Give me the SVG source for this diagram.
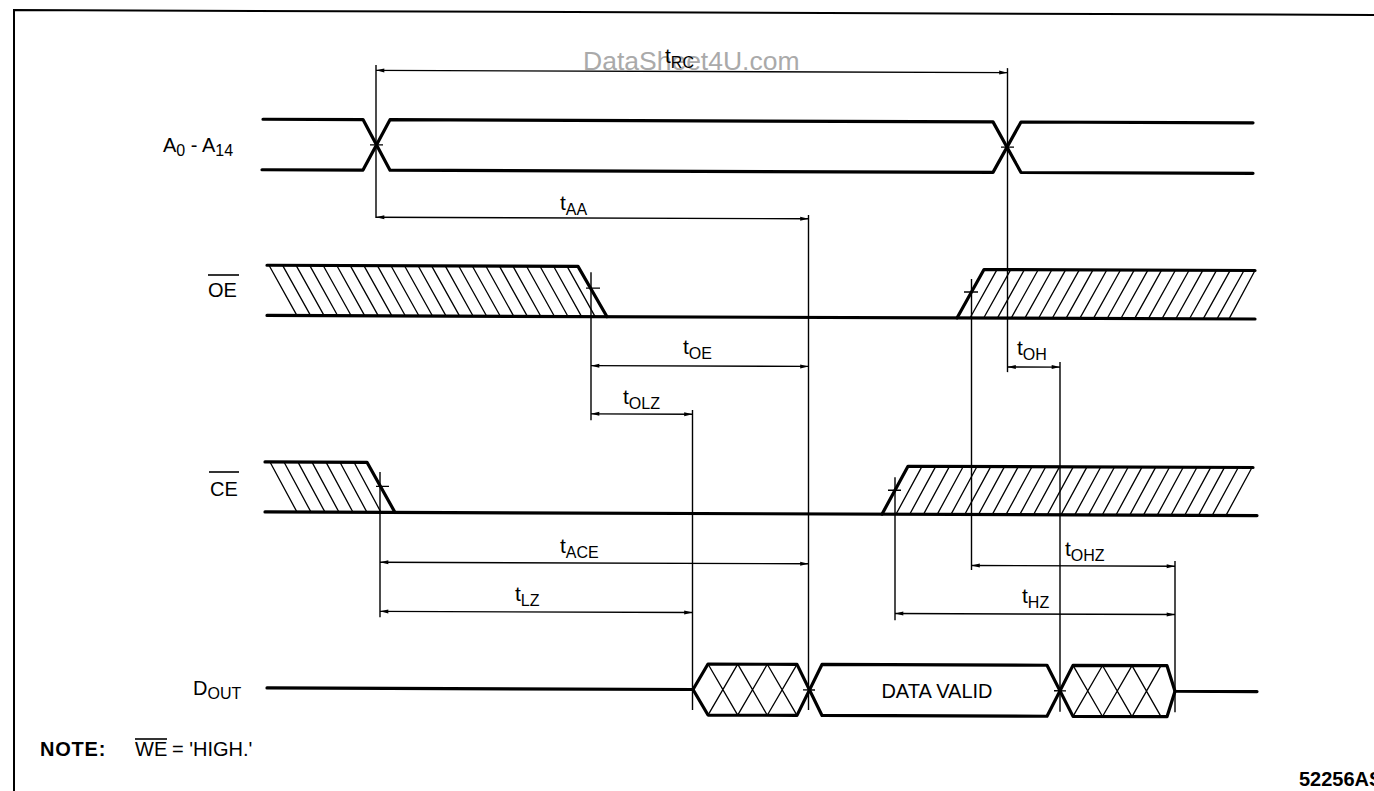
<svg xmlns="http://www.w3.org/2000/svg" width="1374" height="791" viewBox="0 0 1374 791">
<style>
.sig{fill:none;stroke:#000;stroke-width:3.2;stroke-linejoin:round;stroke-linecap:round}
.thin{fill:none;stroke:#000;stroke-width:1.4}
.hatch{fill:none;stroke:#000;stroke-width:1.3}
.dim{fill:none;stroke:#000;stroke-width:1.4;marker-start:url(#ah);marker-end:url(#ah)}
.lbl{font-family:"Liberation Sans",Arial,Helvetica,sans-serif;font-size:20px;fill:#000}
.t{font-family:"Liberation Sans",Arial,Helvetica,sans-serif;font-size:21px;fill:#000}
.sub{font-size:16px}
.bar{stroke:#000;stroke-width:1.6}
</style>
<defs>
<marker id="ah" viewBox="0 0 10 6" refX="10" refY="3" markerWidth="10" markerHeight="5" markerUnits="userSpaceOnUse" orient="auto-start-reverse"><path d="M0,0.6 L10,3 L0,5.4 z" fill="#000"/></marker>
</defs>
<rect x="0" y="0" width="1374" height="791" fill="#fff"/>
<g id="frame"><g transform="matrix(1,0.0036,0,1,0,0)"><path d="M14,791 V10 H1374" fill="none" stroke="#000" stroke-width="2"/></g></g>
<text id="watermark" x="583" y="70" font-family="Liberation Sans,Arial,sans-serif" font-size="26.5" fill="#aaaaaa">DataSheet4U.com</text>

<g id="sig-A">
 <g transform="matrix(1,0.0036,0,1,0,0)">
  <path class="sig" d="M263,118.3 H363 L390,168.8 H993 L1021,118.3 H1253"/>
  <path class="sig" d="M262,168.8 H363 L390,118.3 H993 L1021,168.8 H1253"/>
  <path class="thin" d="M370,143.5 H383 M1001,143.5 H1014"/>
 </g>
 <text class="lbl" x="163" y="152">A<tspan class="sub" dy="4">0</tspan><tspan dy="-4"> - A</tspan><tspan class="sub" dy="4">14</tspan></text>
</g>

<g id="sig-OE">
 <g transform="matrix(1,0.0036,0,1,0,0)">
  <path class="sig" d="M267,264.3 H578 L607,314.5"/>
  <path class="sig" d="M267,314.5 H1255"/>
  <path class="sig" d="M957,314.5 L984,266 H1255"/>
  <path class="hatch" d="M269,264.3l28,50.2M282.6,264.3l28,50.2M296.1,264.3l28,50.2M309.7,264.3l28,50.2M323.2,264.3l28,50.2M336.8,264.3l28,50.2M350.3,264.3l28,50.2M363.9,264.3l28,50.2M377.4,264.3l28,50.2M391,264.3l28,50.2M404.5,264.3l28,50.2M418.1,264.3l28,50.2M431.6,264.3l28,50.2M445.2,264.3l28,50.2M458.7,264.3l28,50.2M472.3,264.3l28,50.2M485.8,264.3l28,50.2M499.4,264.3l28,50.2M512.9,264.3l28,50.2M526.5,264.3l28,50.2M540,264.3l28,50.2M553.6,264.3l28,50.2M567.1,264.3l28,50.2"/>
  <path class="hatch" d="M970,314.5l27,-48.5M983.7,314.5l27,-48.5M997.4,314.5l27,-48.5M1011.2,314.5l27,-48.5M1024.9,314.5l27,-48.5M1038.6,314.5l27,-48.5M1052.3,314.5l27,-48.5M1066,314.5l27,-48.5M1079.8,314.5l27,-48.5M1093.5,314.5l27,-48.5M1107.2,314.5l27,-48.5M1120.9,314.5l27,-48.5M1134.6,314.5l27,-48.5M1148.4,314.5l27,-48.5M1162.1,314.5l27,-48.5M1175.8,314.5l27,-48.5M1189.5,314.5l27,-48.5M1203.2,314.5l27,-48.5M1217,314.5l27,-48.5M1229,314.5L1255,266"/>
  <path class="thin" d="M586,286 H600 M964,288.5 H978"/>
 </g>
 <text class="lbl" x="208" y="297">OE</text>
 <line class="bar" x1="208" y1="275" x2="239" y2="275"/>
</g>

<g id="sig-CE">
 <g transform="matrix(1,0.0036,0,1,0,0)">
  <path class="sig" d="M265,461 H367 L395,511"/>
  <path class="sig" d="M265,511 H1257"/>
  <path class="sig" d="M882,511 L908,463 H1253"/>
  <path class="hatch" d="M270,461l27,50M284,461l27,50M298,461l27,50M312,461l27,50M326,461l27,50M340,461l27,50M354,461l27,50"/>
  <path class="hatch" d="M896,511l26,-48M909.75,511l26,-48M923.5,511l26,-48M937.25,511l26,-48M951,511l26,-48M964.75,511l26,-48M978.5,511l26,-48M992.25,511l26,-48M1006,511l26,-48M1019.75,511l26,-48M1033.5,511l26,-48M1047.25,511l26,-48M1061,511l26,-48M1074.75,511l26,-48M1088.5,511l26,-48M1102.25,511l26,-48M1116,511l26,-48M1129.75,511l26,-48M1143.5,511l26,-48M1157.25,511l26,-48M1171,511l26,-48M1184.75,511l26,-48M1198.5,511l26,-48M1212.25,511l26,-48M1226,511L1252,463"/>
  <path class="thin" d="M376,485 H389 M888,487 H901"/>
 </g>
 <text class="lbl" x="210" y="496">CE</text>
 <line class="bar" x1="209" y1="472" x2="239" y2="472"/>
</g>

<g id="sig-DOUT">
 <g transform="matrix(1,0.0036,0,1,0,0)">
  <path class="sig" d="M267,687 H693"/>
  <path class="sig" d="M693,687 L708,661.5 H797 L822,712.5 H1047 L1073,661.5 H1167 L1175,687 H1257"/>
  <path class="sig" d="M693,687 L708,712.5 H797 L822,661.5 H1047 L1073,712.5 H1167 L1175,687"/>
  <path class="hatch" d="M708,661.5L737.7,712.5M737.7,661.5L708,712.5M737.7,661.5L767.3,712.5M767.3,661.5L737.7,712.5M767.3,661.5L797,712.5M797,661.5L767.3,712.5"/>
  <path class="hatch" d="M1073,661.5L1102.5,712.5M1102.5,661.5L1073,712.5M1102.5,661.5L1132,712.5M1132,661.5L1102.5,712.5M1132,661.5L1161,712.5M1161,661.5L1132,712.5"/>
  <path class="thin" d="M803,687 H815 M1054,687 H1066"/>
 </g>
 <text class="lbl" x="193" y="695">D<tspan class="sub" dy="4">OUT</tspan></text>
 <text class="lbl" x="937" y="698" font-size="21" text-anchor="middle">DATA VALID</text>
</g>

<g id="connectors">
 <g transform="matrix(1,0.0036,0,1,0,0)">
  <path class="thin" d="M376,63.6V216.6 M1007.5,64.5V368.5 M808.5,212V707 M591,270V418 M692.5,407.5V707.5 M971.5,275.5V566.5 M1060,358.2V708 M380,470.6V615.8 M895,474V617 M1175,556.8V708"/>
  <path id="d-tRC" class="dim" d="M376,69H1007.5"/>
  <path id="d-tAA" class="dim" d="M376,215.9H808.5"/>
  <path id="d-tOE" class="dim" d="M591,363.5H808.5"/>
  <path id="d-tOLZ" class="dim" d="M591,411.7H692.5"/>
  <path id="d-tOH" class="dim" d="M1007.5,363.3H1060"/>
  <path id="d-tACE" class="dim" d="M380,560.9H808.5"/>
  <path id="d-tLZ" class="dim" d="M380,610H692.5"/>
  <path id="d-tOHZ" class="dim" d="M971.5,562H1175"/>
  <path id="d-tHZ" class="dim" d="M895,610.3H1175"/>
 </g>
 <text class="t" x="665" y="63">t<tspan class="sub" dy="5">RC</tspan></text>
 <text class="t" x="560" y="210">t<tspan class="sub" dy="5">AA</tspan></text>
 <text class="t" x="683" y="354">t<tspan class="sub" dy="5">OE</tspan></text>
 <text class="t" x="623" y="404">t<tspan class="sub" dy="5">OLZ</tspan></text>
 <text class="t" x="1017" y="355">t<tspan class="sub" dy="5">OH</tspan></text>
 <text class="t" x="560" y="553">t<tspan class="sub" dy="5">ACE</tspan></text>
 <text class="t" x="515" y="600.5">t<tspan class="sub" dy="5">LZ</tspan></text>
 <text class="t" x="1065" y="555.5">t<tspan class="sub" dy="5">OHZ</tspan></text>
 <text class="t" x="1022" y="603">t<tspan class="sub" dy="5">HZ</tspan></text>
</g>

<g id="note">
 <text class="lbl" x="40" y="756" font-weight="bold" font-size="22" letter-spacing="0.8">NOTE:</text>
 <text class="lbl" x="135" y="756" font-size="21">WE</text>
 <line class="bar" x1="135" y1="739" x2="167" y2="739"/>
 <text class="lbl" x="172" y="756" font-size="21">= 'HIGH.'</text>
 <text class="lbl" x="1299" y="786" font-weight="bold" font-size="15">52256AS-4</text>
</g>
</svg>
